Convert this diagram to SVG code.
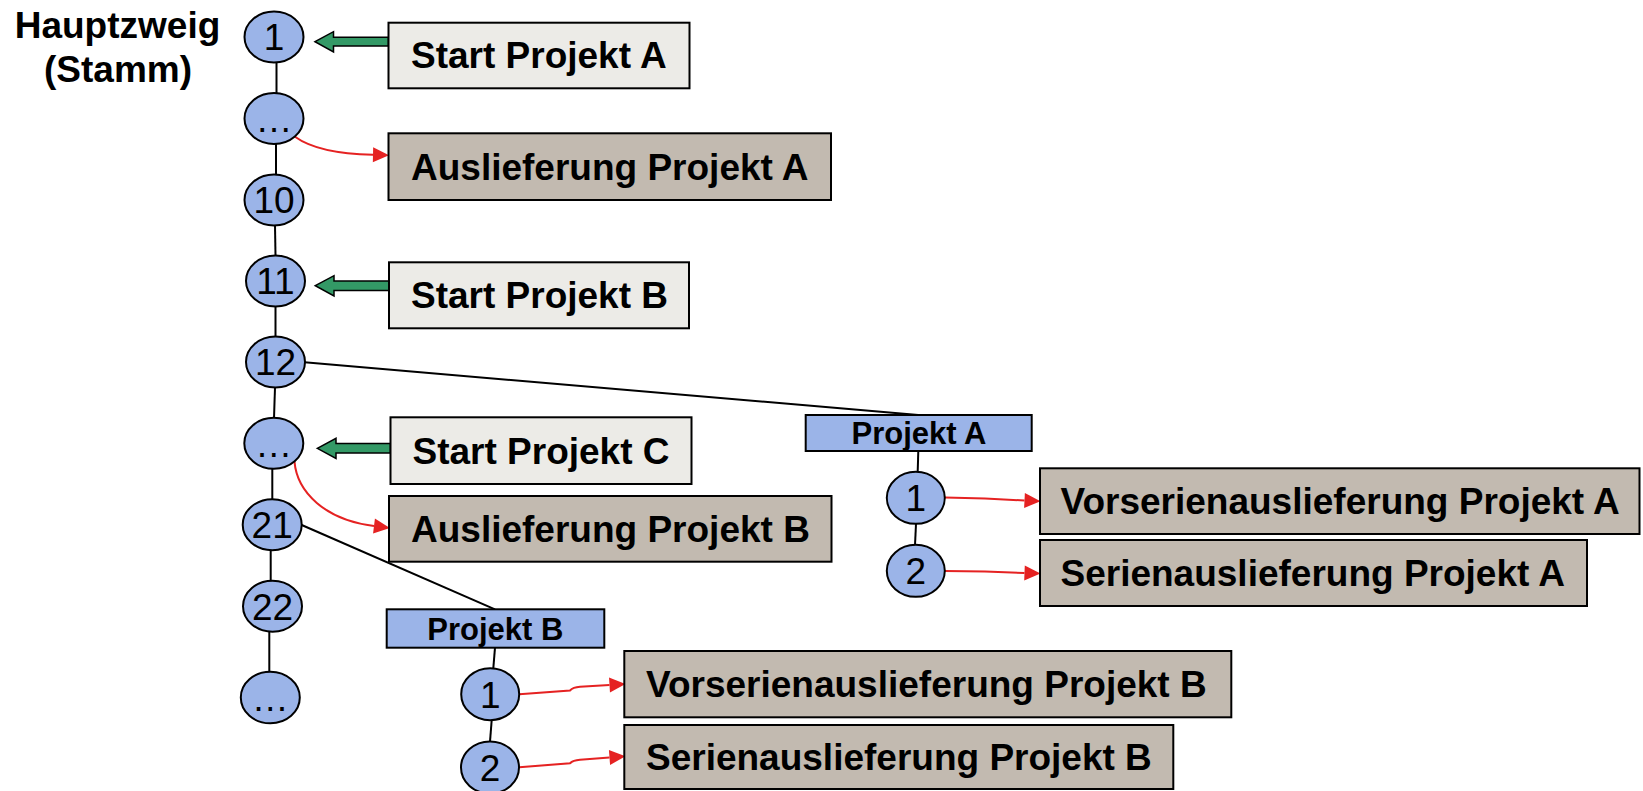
<svg xmlns="http://www.w3.org/2000/svg" width="1643" height="791" viewBox="0 0 1643 791">
<style>
text{font-family:"Liberation Sans",Arial,sans-serif;fill:#000}
.lbl{font-size:37px;font-weight:bold}
.num{font-size:37px;text-anchor:middle}
.sm{font-size:31px;font-weight:bold;text-anchor:middle}
.node{fill:#9BB4E8;stroke:#000;stroke-width:2}
.light{fill:#ECEBE7;stroke:#000;stroke-width:2}
.dark{fill:#C2BAB0;stroke:#000;stroke-width:2}
.branch{fill:#9BB4E8;stroke:#000;stroke-width:2}
.ln{stroke:#000;stroke-width:2;fill:none}
.red{stroke:#E52222;stroke-width:2;fill:none;marker-end:url(#rh)}
.grn{fill:#339966;stroke:#000;stroke-width:1.5}
</style>
<defs>
<marker id="rh" markerUnits="userSpaceOnUse" markerWidth="16" markerHeight="15" refX="0" refY="7.5" orient="auto" overflow="visible">
<path d="M0,0 L16,7.5 L0,15 z" fill="#E52222"/>
</marker>
</defs>

<g id="title">
<text class="lbl" x="117.5" y="38.3" text-anchor="middle">Hauptzweig</text>
<text class="lbl" x="118" y="81.7" text-anchor="middle">(Stamm)</text>
</g>

<g id="connectors">
<line class="ln" x1="276.5" y1="62.5" x2="276.5" y2="93"/>
<line class="ln" x1="276" y1="144" x2="276" y2="174.5"/>
<line class="ln" x1="275" y1="225.5" x2="275.5" y2="255.5"/>
<line class="ln" x1="275.5" y1="306.5" x2="275.5" y2="336.5"/>
<line class="ln" x1="275" y1="387.5" x2="274" y2="418"/>
<line class="ln" x1="272.3" y1="469" x2="272.3" y2="499"/>
<line class="ln" x1="270.7" y1="550" x2="270.7" y2="581"/>
<line class="ln" x1="269.3" y1="632" x2="269.3" y2="672"/>
<line class="ln" x1="304.5" y1="362.3" x2="918.3" y2="415"/>
<line class="ln" x1="918.3" y1="451" x2="917.7" y2="471.7"/>
<line class="ln" x1="916" y1="524" x2="915" y2="545"/>
<line class="ln" x1="301.7" y1="525" x2="495" y2="609.3"/>
<line class="ln" x1="495" y1="647.7" x2="493.3" y2="668.3"/>
<line class="ln" x1="491.7" y1="720" x2="490" y2="741.7"/>
<polygon class="grn" points="315,41.7 333.5,31.7 333.5,37.3 388.5,37.3 388.5,46 333.5,46 333.5,52"/>
<polygon class="grn" points="315.3,285.7 334,275.7 334,281 389,281 389,290.5 334,290.5 334,296"/>
<polygon class="grn" points="317.3,448.3 336,438.3 336,443.6 390.5,443.6 390.5,453 336,453 336,458.5"/>
<path class="red" d="M295,136.7 C312,149 338,154 373,154.8"/>
<path class="red" d="M294.5,461.7 C297,492 325,520 374,526"/>
<path class="red" d="M945,497.5 L985,498.5 L1024.5,500.5"/>
<path class="red" d="M945,571 L985,571.5 L1024.5,573"/>
<path class="red" d="M519.3,694.3 L570,690.5 Q573,687.3 580,686.8 L609.5,685"/>
<path class="red" d="M519.3,767.3 L570,763.3 Q573,760.3 580,759.8 L609.5,757.5"/>
</g>

<g id="n1"><ellipse class="node" cx="274" cy="37" rx="29.5" ry="25.5"/><text class="num" x="274" y="50">1</text></g>
<g id="n_dots1"><ellipse class="node" cx="274" cy="118.5" rx="29.5" ry="25.5"/><text class="num" x="274" y="131.5">…</text></g>
<g id="n10"><ellipse class="node" cx="274" cy="200" rx="29.5" ry="25.5"/><text class="num" x="274" y="213.3">10</text></g>
<g id="n11"><ellipse class="node" cx="275.5" cy="281" rx="29.5" ry="25.5"/><text class="num" x="275.5" y="294.3">11</text></g>
<g id="n12"><ellipse class="node" cx="275.5" cy="362" rx="29.5" ry="25.5"/><text class="num" x="275.5" y="375.3">12</text></g>
<g id="n_dots2"><ellipse class="node" cx="273.8" cy="443.3" rx="29.5" ry="25.5"/><text class="num" x="273.8" y="456.5">…</text></g>
<g id="n21"><ellipse class="node" cx="272.2" cy="524.7" rx="29.5" ry="25.5"/><text class="num" x="272.2" y="538">21</text></g>
<g id="n22"><ellipse class="node" cx="272.5" cy="606.2" rx="29.5" ry="25.5"/><text class="num" x="272.5" y="619.5">22</text></g>
<g id="n_dots3"><ellipse class="node" cx="270.3" cy="697.5" rx="29.5" ry="25.8"/><text class="num" x="270.3" y="710.5">…</text></g>

<g id="projA"><rect class="branch" x="805.7" y="415" width="226" height="36"/><text class="sm" x="919" y="444.3">Projekt A</text></g>
<g id="a1"><ellipse class="node" cx="915.8" cy="497.8" rx="29" ry="26"/><text class="num" x="915.8" y="511">1</text></g>
<g id="a2"><ellipse class="node" cx="915.8" cy="570.8" rx="29" ry="26"/><text class="num" x="915.8" y="584">2</text></g>

<g id="projB"><rect class="branch" x="386.7" y="609.3" width="217.6" height="38.4"/><text class="sm" x="495.3" y="640">Projekt B</text></g>
<g id="b1"><ellipse class="node" cx="490.2" cy="694.2" rx="29" ry="26"/><text class="num" x="490.2" y="707.5">1</text></g>
<g id="b2"><ellipse class="node" cx="490" cy="767.5" rx="29" ry="26"/><text class="num" x="490" y="780.8">2</text></g>

<g id="startA"><rect class="light" x="388.5" y="22.7" width="301" height="65.6"/><text class="lbl" x="411" y="68.3">Start Projekt A</text></g>
<g id="auslA"><rect class="dark" x="388.5" y="133.3" width="442.5" height="66.7"/><text class="lbl" x="411" y="180">Auslieferung Projekt A</text></g>
<g id="startB"><rect class="light" x="389" y="262.3" width="300" height="66"/><text class="lbl" x="411" y="308.3">Start Projekt B</text></g>
<g id="startC"><rect class="light" x="390.5" y="417.3" width="301" height="66.7"/><text class="lbl" x="412.5" y="463.7">Start Projekt C</text></g>
<g id="auslB"><rect class="dark" x="389" y="496" width="442.5" height="65.7"/><text class="lbl" x="411" y="541.7">Auslieferung Projekt B</text></g>
<g id="vorA"><rect class="dark" x="1040" y="468.3" width="599.5" height="65.7"/><text class="lbl" x="1060.5" y="514">Vorserienauslieferung Projekt A</text></g>
<g id="serA"><rect class="dark" x="1040" y="540" width="547" height="66"/><text class="lbl" x="1060.5" y="586">Serienauslieferung Projekt A</text></g>
<g id="vorB"><rect class="dark" x="624.3" y="651" width="607" height="66.3"/><text class="lbl" x="646" y="697">Vorserienauslieferung Projekt B</text></g>
<g id="serB"><rect class="dark" x="624.3" y="725" width="549" height="64"/><text class="lbl" x="646" y="770">Serienauslieferung Projekt B</text></g>
</svg>
